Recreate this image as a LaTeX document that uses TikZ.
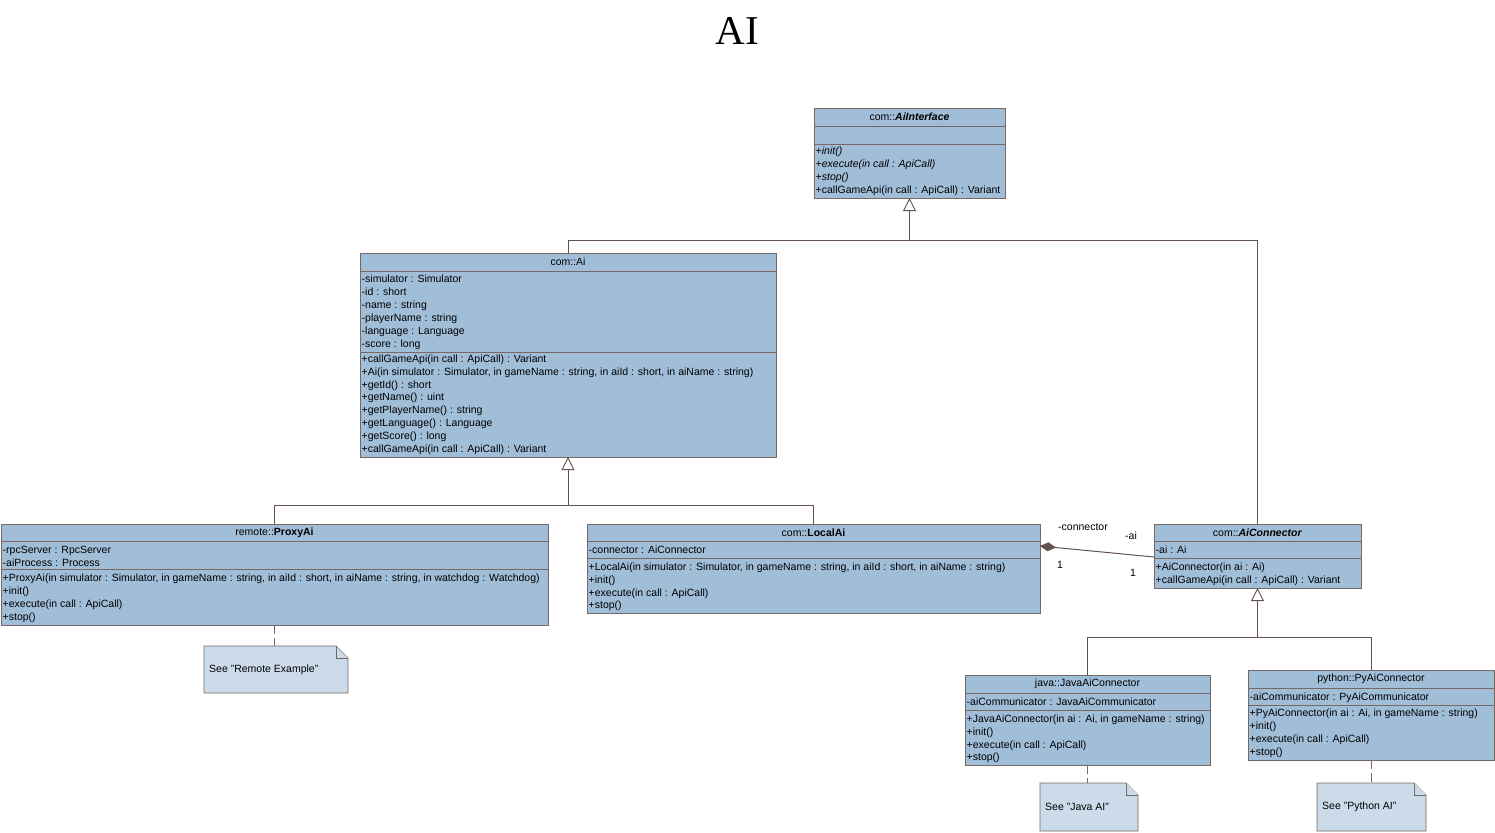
\documentclass[tikz,border=0pt]{standalone}
\usepackage{fontspec}
\setsansfont{Liberation Sans}
\newfontfamily\titlefont{Liberation Serif}
\usetikzlibrary{arrows.meta,calc}

\definecolor{boxfill}{RGB}{161,190,217}
\definecolor{boxline}{RGB}{120,104,100}
\definecolor{connline}{RGB}{100,82,78}
\definecolor{notefill}{RGB}{204,219,234}

\newcommand\rowfont{\sffamily\fontsize{10.5}{12}\selectfont}

% class box with two compartment separators and a centred title
\newcommand\umlclass[8]{%
  \node[classbox, minimum width=#4pt, minimum height=#5pt] (#1) at (#2,#3) {};
  \draw[sepline] (#1.west |- 0,#6) -- (#1.east |- 0,#6);
  \draw[sepline] (#1.west |- 0,#7) -- (#1.east |- 0,#7);
  \node[titletext] (#1-title) at ($(#1.north)!0.5!(#1.north |- 0,#6)$) {#8};
}
% left aligned member rows, #3 = centre of the first row
\newcommand\umlrows[4]{%
  \foreach \t [count=\i] in {#4} {
    \node[rowtext] (#1\i) at (#2+1.5, {#3+3.8+(\i-1)*12.85}) {\t};
  }
}
% note with a folded corner
\newcommand\umlnote[6]{%
  \node[notebox, minimum width=#4pt, minimum height=#5pt] (#1) at (#2,#3) {};
  \filldraw[notedraw] (#1.north west) -- ([xshift=-12pt]#1.north east)
    -- ([yshift=-12pt]#1.north east) -- (#1.south east) -- (#1.south west) -- cycle;
  \draw[notedraw] ([xshift=-12pt]#1.north east) -- ([xshift=-12pt,yshift=-12pt]#1.north east)
    -- ([yshift=-12pt]#1.north east);
  \node[rowtext, anchor=west] (#1-text) at ([xshift=5pt]#1.west) {#6};
}

\tikzset{
  classbox/.style={draw=boxline, fill=boxfill, line width=0.9pt, anchor=north west,
    inner sep=0pt, outer sep=0pt},
  sepline/.style={draw=boxline, line width=0.9pt},
  titletext/.style={inner sep=0pt, font=\rowfont},
  rowtext/.style={anchor=base west, inner sep=0pt, font=\rowfont},
  notebox/.style={anchor=north west, inner sep=0pt, outer sep=0pt},
  notedraw/.style={draw=boxline, fill=notefill, line width=0.9pt, line join=miter},
  conn/.style={draw=connline, line width=1pt},
  gen/.style={conn, -{Triangle[open, length=13pt, width=13pt, fill=white, line width=0.9pt]}},
  comp/.style={conn, -{Diamond[length=16pt, width=9pt, fill=connline]}},
  notelink/.style={draw=boxline, line width=0.9pt, dash pattern=on 9pt off 4pt},
  multlabel/.style={inner sep=0pt, font=\rowfont},
}

\begin{document}
\begin{tikzpicture}[x=1pt, y=-1pt]
\useasboundingbox (0,0) rectangle (1495,832);

\node[inner sep=0pt, font=\titlefont\fontsize{41}{46}\selectfont] (diagtitle) at (737.5,31) {AI};

% ---- classes ----
\umlclass{ifc}{814}{108}{191}{90}{126}{144}{com::\textbf{\textit{AiInterface}}}
\umlrows{ifc-op}{814}{151}{\textit{+init()}, \textit{+execute(in call : ApiCall)}, \textit{+stop()}, +callGameApi(in call : ApiCall) : Variant}

\umlclass{ai}{360}{253}{416}{204}{271}{352}{com::Ai}
\umlrows{ai-at}{360}{279}{-simulator : Simulator, -id : short, -name : string, -playerName : string, -language : Language, -score : long}
\umlrows{ai-op}{360}{358.5}{+callGameApi(in call : ApiCall) : Variant, {+Ai(in simulator : Simulator, in gameName : string, in aiId : short, in aiName : string)}, +getId() : short, +getName() : uint, +getPlayerName() : string, +getLanguage() : Language, +getScore() : long, +callGameApi(in call : ApiCall) : Variant}

\umlclass{proxy}{1}{524}{547}{101}{541}{569}{remote::\textbf{ProxyAi}}
\umlrows{proxy-at}{1}{550}{-rpcServer : RpcServer, -aiProcess : Process}
\umlrows{proxy-op}{1}{578}{{+ProxyAi(in simulator : Simulator, in gameName : string, in aiId : short, in aiName : string, in watchdog : Watchdog)}, +init(), +execute(in call : ApiCall), +stop()}

\umlclass{local}{587}{524}{453}{89}{541}{558}{com::\textbf{LocalAi}}
\umlrows{local-at}{587}{550}{-connector : AiConnector}
\umlrows{local-op}{587}{566.5}{{+LocalAi(in simulator : Simulator, in gameName : string, in aiId : short, in aiName : string)}, +init(), +execute(in call : ApiCall), +stop()}

\umlclass{con}{1154}{524}{207}{64}{541}{558}{com::\textbf{\textit{AiConnector}}}
\umlrows{con-at}{1154}{550}{-ai : Ai}
\umlrows{con-op}{1154}{567}{+AiConnector(in ai : Ai), +callGameApi(in call : ApiCall) : Variant}

\umlclass{java}{965}{675}{245}{90}{693}{710}{java::JavaAiConnector}
\umlrows{java-at}{965}{702}{-aiCommunicator : JavaAiCommunicator}
\umlrows{java-op}{965}{718.5}{{+JavaAiConnector(in ai : Ai, in gameName : string)}, +init(), +execute(in call : ApiCall), +stop()}

\umlclass{py}{1248}{670}{246}{90}{688}{705}{python::PyAiConnector}
\umlrows{py-at}{1248}{696.5}{-aiCommunicator : PyAiCommunicator}
\umlrows{py-op}{1248}{713}{{+PyAiConnector(in ai : Ai, in gameName : string)}, +init(), +execute(in call : ApiCall), +stop()}

% ---- notes ----
\umlnote{rnote}{204}{646}{144}{47}{See "Remote Example"}
\umlnote{jnote}{1040}{783}{98}{48}{See "Java AI"}
\umlnote{pnote}{1317}{783}{109}{48}{See "Python AI"}

% ---- generalizations ----
\coordinate (j1) at (909.5,240.5);
\draw[gen] (ai.north) |- (j1) -- (ifc.south);
\draw[conn] (con.north) |- (j1);

\coordinate (j2) at (568,505.5);
\draw[gen] (proxy.north) |- (j2) -- (ai.south);
\draw[conn] (local.north) |- (j2);

\coordinate (j3) at (1257.5,637.5);
\draw[gen] (java.north) |- (j3) -- (con.south);
\draw[conn] (py.north) |- (j3);

% ---- composition LocalAi <>-- AiConnector ----
\draw[comp] ([yshift=-33pt]con.north west) -- ([yshift=-22pt]local.north east);
\node[multlabel] (lbl-connector) at (1083,527.5) {-connector};
\node[multlabel] (lbl-one-a) at (1060,565) {1};
\node[multlabel] (lbl-ai) at (1131,536) {-ai};
\node[multlabel] (lbl-one-b) at (1133,573) {1};

% ---- note links ----
\draw[notelink] (proxy.south) -- (proxy.south |- rnote.north);
\draw[notelink] (java.north |- java.south) -- (java.north |- jnote.north);
\draw[notelink] (py.north |- py.south) -- (py.north |- pnote.north);
\end{tikzpicture}
\end{document}
